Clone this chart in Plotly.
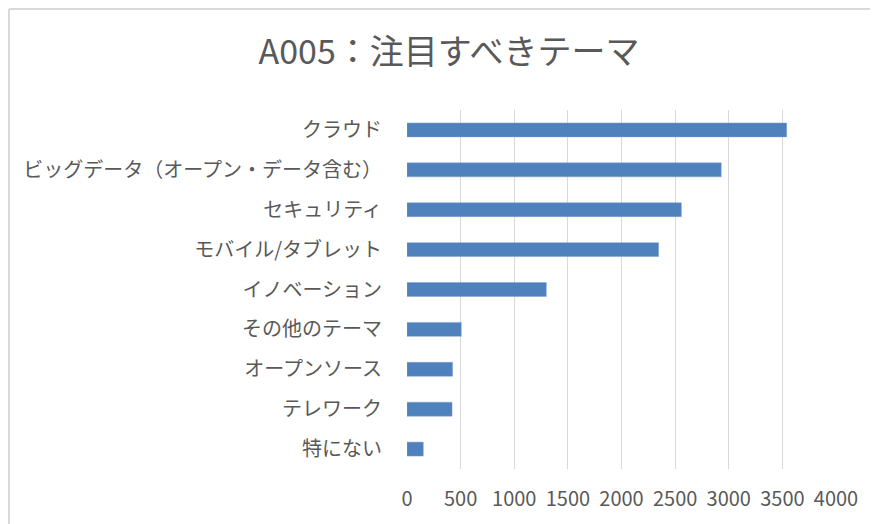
import plotly.graph_objects as go

categories = ["クラウド", "ビッグデータ（オープン・データ含む）", "セキュリティ", "モバイル/タブレット",
              "イノベーション", "その他のテーマ", "オープンソース", "テレワーク", "特にない"]
values = [3540, 2930, 2558, 2346, 1299, 506, 425, 420, 152]
x_ticks = [0, 500, 1000, 1500, 2000, 2500, 3000, 3500, 4000]
title_text = "A005：注目すべきテーマ"

# page body has an 8px margin; figure coordinates = page coordinates - 8
OFF = 8
W, H = 878 - OFF, 524 - OFF
L, T = 407 - OFF, 110 - OFF
R = W - (836 - OFF)
B = H - (469 - OFF)
pw, ph = W - L - R, H - T - B

def px_x(p):
    return (p - OFF - L) / pw

def px_y(p):
    return (H - B - (p - OFF)) / ph

font = "Noto Sans CJK JP"
txt = "#595959"

fig = go.Figure(go.Bar(
    x=values, y=categories, orientation="h",
    marker=dict(color="#4F81BD", line=dict(color="#7FA3D3", width=0.5)),
))

fig.update_layout(
    width=W, height=H,
    margin=dict(l=L, r=R, t=T, b=B),
    paper_bgcolor="white", plot_bgcolor="white",
    bargap=0.65,
    showlegend=False,
    font=dict(family=font, color=txt, size=20),
    title=dict(text=title_text, xref="container", yref="container",
               x=(449 - OFF) / W, y=1 - (52 - OFF) / H, xanchor="center", yanchor="middle",
               font=dict(family=font, size=34, color=txt)),
    xaxis=dict(range=[0, 4000], tickvals=x_ticks, showgrid=True, gridcolor="#D9D9D9",
               gridwidth=1.3, zeroline=False, showline=False, ticks="",
               ticklabelstandoff=16, tickfont=dict(size=20, color=txt)),
    yaxis=dict(categoryorder="array", categoryarray=categories, autorange="reversed",
               showgrid=False, zeroline=False, showline=False, ticks="",
               ticklabelstandoff=24, tickfont=dict(size=20, color=txt)),
    shapes=[
        dict(type="line", xref="paper", yref="paper", x0=px_x(9), x1=px_x(900),
             y0=px_y(9), y1=px_y(9), line=dict(color="#D9D9D9", width=2)),
        dict(type="line", xref="paper", yref="paper", x0=px_x(9), x1=px_x(9),
             y0=px_y(9), y1=px_y(540), line=dict(color="#D9D9D9", width=2)),
    ],
)

fig.write_html("out.html")
